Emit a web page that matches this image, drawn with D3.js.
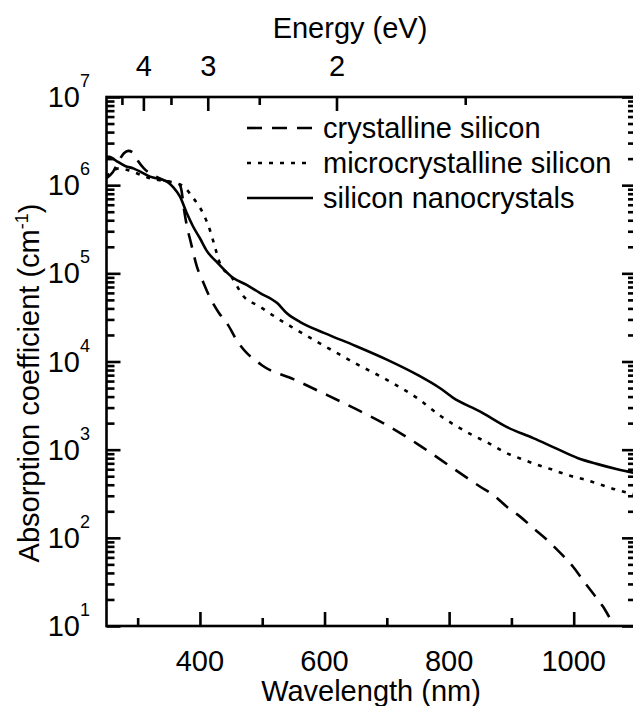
<!DOCTYPE html>
<html>
<head>
<meta charset="utf-8">
<script src="https://cdn.jsdelivr.net/npm/d3@7"></script>
<style>
  html, body { margin: 0; padding: 0; background: #fff; }
  svg { display: block; }
  text { font-family: "Liberation Sans", Arial, sans-serif; fill: #000; }
</style>
</head>
<body>
<svg id="chart" width="633" height="706"></svg>
<script>
// Absorption spectra (cm^-1) vs wavelength (nm)
const crystallineNm = [250, 260, 270, 278, 285, 292, 300, 310, 320, 335, 350, 360, 366, 370, 375, 380, 385, 395, 405, 415, 430, 445, 460, 475, 490, 500, 550, 600, 650, 700, 750, 806, 850, 870, 893, 914, 935, 957, 978, 999, 1015, 1034, 1047, 1062, 1075];
const crystallineAbs = [1.2e6, 1.4e6, 1.9e6, 2.3e6, 2.45e6, 2.35e6, 1.9e6, 1.55e6, 1.35e6, 1.2e6, 1.1e6, 1.1e6, 1.05e6, 9e5, 5e5, 3.2e5, 2.3e5, 1.2e5, 8e4, 5.5e4, 3.6e4, 2.6e4, 1.7e4, 1.25e4, 1.02e4, 9e3, 6.3e3, 4.3e3, 2.9e3, 1.9e3, 1.15e3, 617, 380, 310, 224, 174, 129, 95, 68, 47, 33, 22, 16.6, 11, 8];

const microNm = [250, 260, 270, 285, 300, 320, 340, 363, 375, 387, 397, 405, 416, 424, 432, 451, 469, 496, 524, 550, 600, 650, 700, 750, 785, 809, 836, 862, 890, 914, 941, 967, 991, 1018, 1045, 1071, 1100];
const microAbs = [1.25e6, 1.45e6, 1.55e6, 1.48e6, 1.35e6, 1.2e6, 1.12e6, 1.05e6, 9.5e5, 7.5e5, 6e5, 4.8e5, 3.1e5, 2e5, 1.3e5, 9e4, 5.6e4, 4.2e4, 3.1e4, 2.4e4, 1.5e4, 9.5e3, 6.2e3, 3.8e3, 2.45e3, 1.9e3, 1.48e3, 1.2e3, 930, 795, 676, 589, 513, 457, 398, 347, 310];

const nanoNm = [250, 255, 265, 280, 293, 320, 347, 357, 368, 379, 389, 400, 411, 429, 453, 475, 496, 524, 540, 561, 600, 650, 700, 750, 785, 806, 850, 893, 935, 967, 1007, 1037, 1070, 1100];
const nanoAbs = [2.1e6, 2.1e6, 1.9e6, 1.65e6, 1.55e6, 1.25e6, 1.1e6, 9.5e5, 7.4e5, 4.8e5, 3.4e5, 2.5e5, 1.8e5, 1.3e5, 8.9e4, 7.4e4, 6e4, 4.6e4, 3.5e4, 2.8e4, 2.1e4, 1.5e4, 1.05e4, 7e3, 5e3, 3.9e3, 2.7e3, 1.8e3, 1.35e3, 1.07e3, 800, 690, 600, 540];

const seriesNames = ["crystalline silicon", "microcrystalline silicon", "silicon nanocrystals"];

const wavelengthTicks = [400, 600, 800, 1000];
const wavelengthMinor = [300, 500, 700, 900, 1100];
const energyTicks = [4, 3, 2];
const energyMinor = [4.5, 3.5, 2.5, 1.5];
const decadeExponents = [1, 2, 3, 4, 5, 6, 7];

const svg = d3.select("#chart");
const plotLeft = 106.5, plotRight = 636, plotTop = 97, plotBottom = 626;

const x = d3.scaleLinear().domain([250, 1100]).range([plotLeft, plotRight]);
const y = d3.scaleLog().domain([10, 1e7]).range([plotBottom, plotTop]);
const hc = 1240; // eV·nm

const styles = [
  { dash: "15,10", width: 2.6 },
  { dash: "4,7", width: 2.6 },
  { dash: null, width: 2.6 }
];

const series = [
  crystallineNm.map((w, i) => ({ w, v: crystallineAbs[i] })),
  microNm.map((w, i) => ({ w, v: microAbs[i] })),
  nanoNm.map((w, i) => ({ w, v: nanoAbs[i] }))
];

svg.append("clipPath").attr("id", "plotClip")
  .append("rect").attr("x", plotLeft).attr("y", plotTop)
  .attr("width", plotRight - plotLeft).attr("height", plotBottom - plotTop);

const line = d3.line()
  .x(d => x(d.w))
  .y(d => y(d.v))
  .curve(d3.curveMonotoneX);

const plot = svg.append("g").attr("clip-path", "url(#plotClip)");
series.forEach((s, i) => {
  plot.append("path")
    .datum(s)
    .attr("d", line)
    .attr("fill", "none")
    .attr("stroke", "#000")
    .attr("stroke-width", styles[i].width)
    .attr("stroke-dasharray", styles[i].dash)
    .attr("stroke-linejoin", "round");
});

// Axes (ticks point inward)
const majorLen = 14, minorLen = 8, axisW = 2.6;
const fontSize = 29, supSize = 18;

const minorLog = [];
decadeExponents.slice(0, -1).forEach(e => {
  for (let k = 2; k <= 9; k++) minorLog.push(k * Math.pow(10, e));
});
const decades = decadeExponents.map(e => Math.pow(10, e));

function styleAxis(g) {
  g.select(".domain").remove();
  g.selectAll("line").attr("stroke", "#000").attr("stroke-width", axisW);
}

svg.append("g").attr("transform", `translate(0,${plotBottom})`)
  .call(d3.axisTop(x).tickValues(wavelengthTicks).tickSize(majorLen).tickFormat("")).call(styleAxis);
svg.append("g").attr("transform", `translate(0,${plotBottom})`)
  .call(d3.axisTop(x).tickValues(wavelengthMinor).tickSize(minorLen).tickFormat("")).call(styleAxis);

svg.append("g").attr("transform", `translate(${plotLeft},0)`)
  .call(d3.axisRight(y).tickValues(decades).tickSize(majorLen).tickFormat("")).call(styleAxis);
svg.append("g").attr("transform", `translate(${plotLeft},0)`)
  .call(d3.axisRight(y).tickValues(minorLog).tickSize(minorLen).tickFormat("")).call(styleAxis);
svg.append("g").attr("transform", `translate(${plotRight},0)`)
  .call(d3.axisLeft(y).tickValues(decades).tickSize(majorLen).tickFormat("")).call(styleAxis);
svg.append("g").attr("transform", `translate(${plotRight},0)`)
  .call(d3.axisLeft(y).tickValues(minorLog).tickSize(minorLen).tickFormat("")).call(styleAxis);

// Top axis: photon energy
const xe = e => x(hc / e);
energyTicks.forEach(e => {
  svg.append("line").attr("x1", xe(e)).attr("x2", xe(e)).attr("y1", plotTop).attr("y2", plotTop + majorLen)
    .attr("stroke", "#000").attr("stroke-width", axisW);
  svg.append("text").attr("x", xe(e)).attr("y", 66).attr("dy", "0.35em")
    .attr("text-anchor", "middle").attr("font-size", fontSize).text(e);
});
energyMinor.forEach(e => {
  svg.append("line").attr("x1", xe(e)).attr("x2", xe(e)).attr("y1", plotTop).attr("y2", plotTop + minorLen)
    .attr("stroke", "#000").attr("stroke-width", axisW);
});

// Frame
svg.append("rect").attr("x", plotLeft).attr("y", plotTop)
  .attr("width", plotRight - plotLeft).attr("height", plotBottom - plotTop)
  .attr("fill", "none").attr("stroke", "#000").attr("stroke-width", axisW);

// Tick labels
wavelengthTicks.forEach(w => {
  svg.append("text").attr("x", x(w)).attr("y", 661).attr("dy", "0.35em")
    .attr("text-anchor", "middle").attr("font-size", fontSize).text(w);
});
decadeExponents.forEach(e => {
  svg.append("text").attr("x", 80).attr("y", y(Math.pow(10, e))).attr("dy", "0.35em")
    .attr("text-anchor", "end").attr("font-size", fontSize).text("10");
  svg.append("text").attr("x", 80).attr("y", y(Math.pow(10, e)) - 10)
    .attr("font-size", supSize).text(e);
});

// Axis titles
svg.append("text").attr("x", 371).attr("y", 691).attr("dy", "0.35em")
  .attr("text-anchor", "middle").attr("font-size", fontSize).text("Wavelength (nm)");
svg.append("text").attr("x", 350).attr("y", 28).attr("dy", "0.35em")
  .attr("text-anchor", "middle").attr("font-size", fontSize).text("Energy (eV)");
const yt = svg.append("text").attr("transform", "translate(29,383) rotate(-90)")
  .attr("text-anchor", "middle").attr("dy", "0.35em").attr("font-size", fontSize);
yt.append("tspan").text("Absorption coefficient (cm");
yt.append("tspan").attr("font-size", supSize).attr("dy", "-0.6em").text("-1");
yt.append("tspan").attr("dy", "0.4em").text(")");

// Legend
const legendY = [128, 163, 198];
seriesNames.forEach((name, i) => {
  svg.append("line").attr("x1", 247).attr("x2", 313).attr("y1", legendY[i]).attr("y2", legendY[i])
    .attr("stroke", "#000").attr("stroke-width", styles[i].width)
    .attr("stroke-dasharray", styles[i].dash);
  svg.append("text").attr("x", 323).attr("y", legendY[i]).attr("dy", "0.35em")
    .attr("font-size", fontSize).text(name);
});
</script>
</body>
</html>
